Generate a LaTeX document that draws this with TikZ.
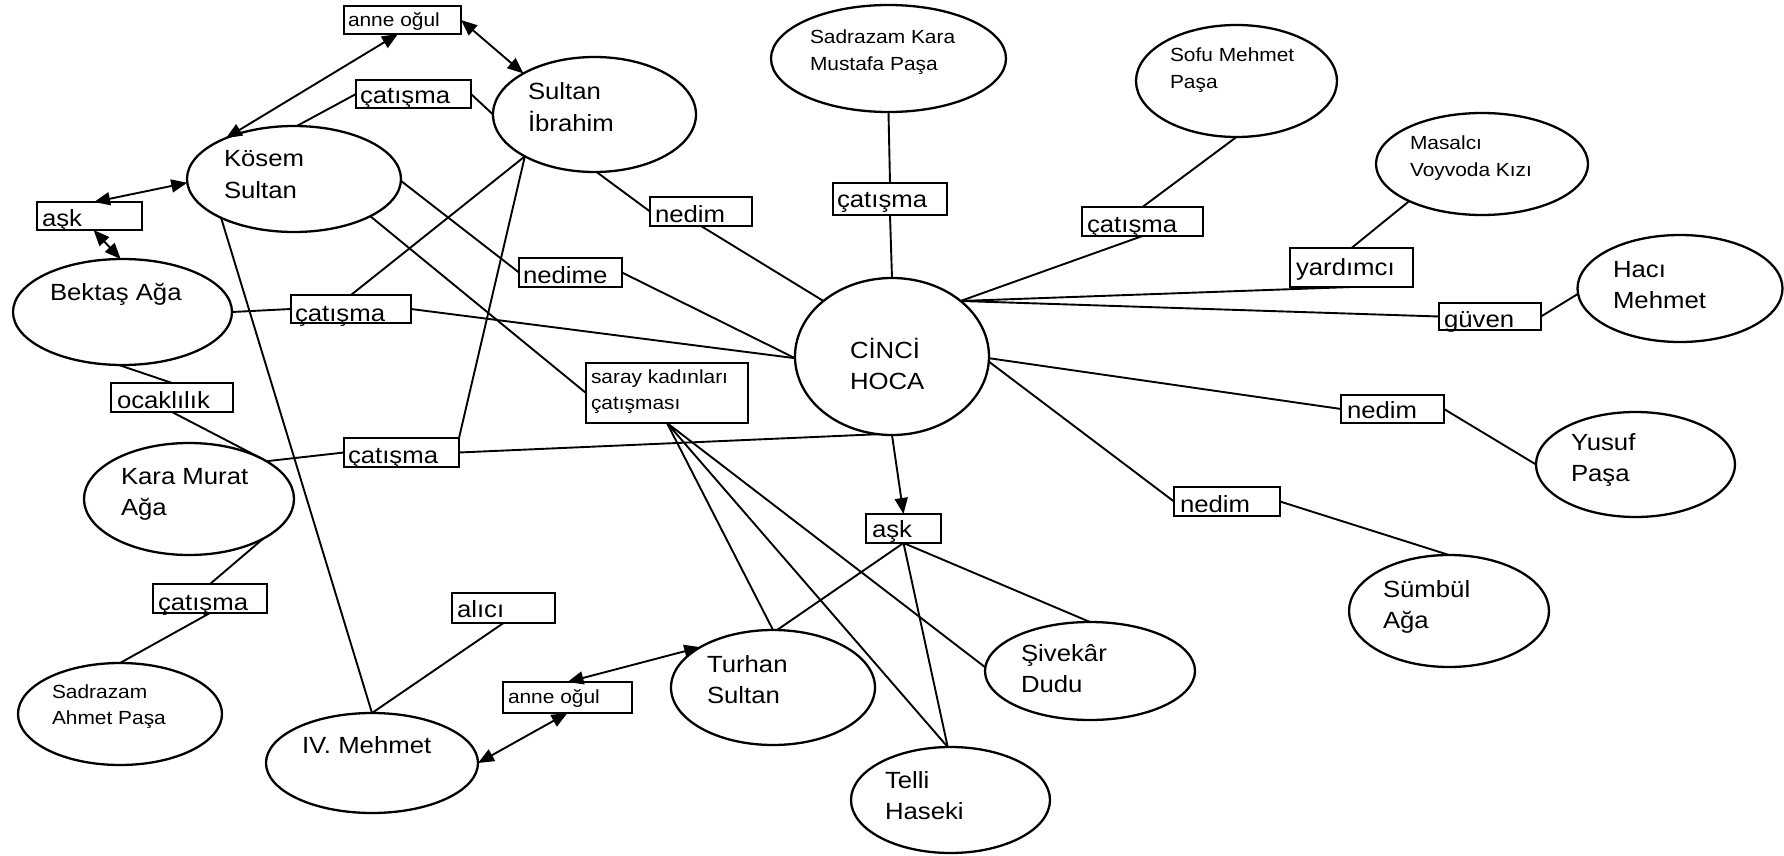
\documentclass[tikz,border=0pt]{standalone}
\usepackage{fontspec}
\setmainfont{Liberation Sans}
\usetikzlibrary{arrows.meta,shapes.geometric}
% two left-aligned lines whose reference point is the first baseline
\newcommand\twoln[2]{\begin{tabular}[t]{@{}l@{}}#1\\#2\end{tabular}}
\begin{document}
\begin{tikzpicture}[x=0.5pt,y=-0.5pt,
  every node/.style={inner sep=0pt, outer sep=0pt},
  >={Triangle[length=8pt,width=6.5pt]},
  ell/.style 2 args={draw, line width=1.15pt, ellipse, minimum width=#1*0.5pt, minimum height=#2*0.5pt},
  tagbox/.style 2 args={draw, line width=1.05pt, rectangle, minimum width=#1*0.5pt, minimum height=#2*0.5pt},
  bigtxt/.style={anchor=base west, xscale=1.1, font=\fontsize{11.7}{15.8}\selectfont},
  smalltxt/.style={anchor=base west, xscale=1.1, font=\fontsize{9.5}{13.25}\selectfont},
  link/.style={line width=0.95pt}
]
\fill[white] (0,0) rectangle (1784,856);
\useasboundingbox (0,0) rectangle (1784,856);

% ---------- persons ----------
\node[ell={214}{106}] (kosem) at (294,179) {};
\node[bigtxt] (kosem-t) at (224,167) {\twoln{Kösem}{Sultan}};
\node[ell={203}{115}] (ibrahim) at (594.5,114.5) {};
\node[bigtxt] (ibrahim-t) at (528,100) {\twoln{Sultan}{İbrahim}};
\node[ell={219}{106}] (bektas) at (122.5,312) {};
\node[bigtxt] (bektas-t) at (50,300) {Bektaş Ağa};
\node[ell={210}{112}] (karamurat) at (189,499) {};
\node[bigtxt] (karamurat-t) at (121,484) {\twoln{Kara Murat}{Ağa}};
\node[ell={204}{102}] (ahmet) at (120,714) {};
\node[smalltxt] (ahmet-t) at (52,698) {\twoln{Sadrazam}{Ahmet Paşa}};
\node[ell={212}{100}] (mehmet4) at (372,763) {};
\node[bigtxt] (mehmet4-t) at (302,753) {IV. Mehmet};
\node[ell={204}{115}] (turhan) at (773,687.5) {};
\node[bigtxt] (turhan-t) at (707,672) {\twoln{Turhan}{Sultan}};
\node[ell={199}{106}] (telli) at (950.5,800) {};
\node[bigtxt] (telli-t) at (885,788) {\twoln{Telli}{Haseki}};
\node[ell={210}{98}] (sivekar) at (1090,671) {};
\node[bigtxt] (sivekar-t) at (1021,661) {\twoln{Şivekâr}{Dudu}};
\node[ell={194}{157}] (cinci) at (892,356.5) {};
\node[bigtxt] (cinci-t) at (850,358) {\twoln{CİNCİ}{HOCA}};
\node[ell={235}{107}] (karamustafa) at (888.5,58.5) {};
\node[smalltxt] (karamustafa-t) at (810,44) {\twoln{Sadrazam Kara}{Mustafa Paşa}};
\node[ell={201}{112}] (sofu) at (1236.5,81) {};
\node[smalltxt] (sofu-t) at (1170,62) {\twoln{Sofu Mehmet}{Paşa}};
\node[ell={212}{102}] (masalci) at (1482,164) {};
\node[smalltxt] (masalci-t) at (1410,150) {\twoln{Masalcı}{Voyvoda Kızı}};
\node[ell={205}{107}] (haci) at (1680,288.5) {};
\node[bigtxt] (haci-t) at (1613,277) {\twoln{Hacı}{Mehmet}};
\node[ell={199}{105}] (yusuf) at (1635.5,464.5) {};
\node[bigtxt] (yusuf-t) at (1571,450) {\twoln{Yusuf}{Paşa}};
\node[ell={200}{112}] (sumbul) at (1449,611) {};
\node[bigtxt] (sumbul-t) at (1383,597) {\twoln{Sümbül}{Ağa}};

% ---------- relation labels ----------
\node[tagbox={117}{28}] (annetop) at (402.5,20) {};
\node[smalltxt] (annetop-t) at (348,27) {anne oğul};
\node[tagbox={115}{28}] (catTop) at (413.5,94) {};
\node[bigtxt] (catTop-t) at (360,104) {çatışma};
\node[tagbox={105}{28}] (askLeft) at (89.5,216) {};
\node[bigtxt] (askLeft-t) at (42,227) {aşk};
\node[tagbox={120}{28}] (catMid) at (351,309) {};
\node[bigtxt] (catMid-t) at (295,321) {çatışma};
\node[tagbox={103}{29}] (nedime) at (570.5,272.5) {};
\node[bigtxt] (nedime-t) at (523,283) {nedime};
\node[tagbox={102}{29}] (nedimTop) at (701,211.5) {};
\node[bigtxt] (nedimTop-t) at (655,222) {nedim};
\node[tagbox={162}{60}] (saray) at (667,393) {};
\node[smalltxt] (saray-t) at (591,383) {\twoln{saray kadınları}{çatışması}};
\node[tagbox={122}{29}] (ocak) at (172,397.5) {};
\node[bigtxt] (ocak-t) at (117,408) {ocaklılık};
\node[tagbox={115}{29}] (catLow) at (401.5,452.5) {};
\node[bigtxt] (catLow-t) at (348,463) {çatışma};
\node[tagbox={114}{29}] (catAhmet) at (210,598.5) {};
\node[bigtxt] (catAhmet-t) at (158,610) {çatışma};
\node[tagbox={103}{30}] (alici) at (503.5,608) {};
\node[bigtxt] (alici-t) at (457,617) {alıcı};
\node[tagbox={129}{31}] (anneBot) at (567.5,697.5) {};
\node[smalltxt] (anneBot-t) at (508,703) {anne oğul};
\node[tagbox={114}{32}] (catCenter) at (890,199) {};
\node[bigtxt] (catCenter-t) at (837,207) {çatışma};
\node[tagbox={121}{29}] (catRight) at (1142.5,221.5) {};
\node[bigtxt] (catRight-t) at (1087,232) {çatışma};
\node[tagbox={123}{39}] (yardimci) at (1351.5,267.5) {};
\node[bigtxt] (yardimci-t) at (1296,275) {yardımcı};
\node[tagbox={102}{27}] (guven) at (1490,316.5) {};
\node[bigtxt] (guven-t) at (1444,327) {güven};
\node[tagbox={103}{28}] (nedimR) at (1392.5,409) {};
\node[bigtxt] (nedimR-t) at (1347,418) {nedim};
\node[tagbox={106}{29}] (nedimLow) at (1227,501.5) {};
\node[bigtxt] (nedimLow-t) at (1180,512) {nedim};
\node[tagbox={75}{29}] (askLow) at (903.5,528.5) {};
\node[bigtxt] (askLow-t) at (872,537) {aşk};

% ---------- connectors ----------
\draw[link,<->] (annetop.252) -- (kosem.149);
\draw[link,<->] (annetop.east) -- (ibrahim.150);
\draw[link] (kosem.87) -- (catTop.west);
\draw[link] (catTop.east) -- (ibrahim.180);
\draw[link,<->] (kosem.182) -- (askLeft.72);
\draw[link,<->] (askLeft.286) -- (bektas.92);
\draw[link] (bektas.east) -- (catMid.west);
\draw[link] (catMid.east) -- (cinci.181);
\draw[link] (ibrahim.211) -- (catMid.north);
\draw[link] (ibrahim.211) -- (catLow.north east);
\draw[link] (ibrahim.272) -- (nedimTop.west);
\draw[link] (nedimTop.south) -- (cinci.141);
\draw[link] (kosem.359) -- (nedime.west);
\draw[link] (nedime.east) -- (cinci.181);
\draw[link] (kosem.334) -- (saray.west);
\draw[link] (kosem.208) -- (mehmet4.north);
\draw[link] (bektas.266) -- (ocak.north);
\draw[link] (ocak.south) -- (karamurat.30);
\draw[link] (karamurat.26) -- (catLow.west);
\draw[link] (catLow.east) -- (cinci.260);
\draw[link] (karamurat.332) -- (catAhmet.north);
\draw[link] (catAhmet.south) -- (ahmet.north);
\draw[link] (alici.south) -- (mehmet4.north);
\draw[link,<->] (anneBot.south) -- (mehmet4.east);
\draw[link,<->] (anneBot.north) -- (turhan.151);
\draw[link] (saray.south) -- (turhan.north);
\draw[link] (saray.south) -- (telli.93);
\draw[link] (saray.south) -- (sivekar.178);
\draw[link,->] (cinci.south) -- (askLow.north);
\draw[link] (askLow.south) -- (turhan.86);
\draw[link] (askLow.south) -- (telli.93);
\draw[link] (askLow.south) -- (sivekar.north);
\draw[link] (karamustafa.south) -- (catCenter.north);
\draw[link] (catCenter.south) -- (cinci.north);
\draw[link] (sofu.south) -- (catRight.north);
\draw[link] (catRight.south) -- (cinci.39);
\draw[link] (masalci.207) -- (yardimci.north);
\draw[link] (cinci.39) -- (yardimci.south);
\draw[link] (cinci.39) -- (guven.west);
\draw[link] (guven.east) -- (haci.183);
\draw[link] (cinci.359) -- (nedimR.west);
\draw[link] (nedimR.east) -- (yusuf.west);
\draw[link] (cinci.357) -- (nedimLow.west);
\draw[link] (nedimLow.east) -- (sumbul.north);
\end{tikzpicture}
\end{document}
